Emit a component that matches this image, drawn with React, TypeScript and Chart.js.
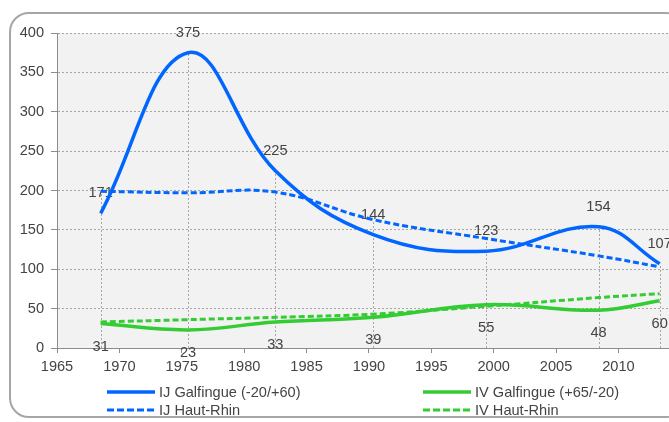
import React, { useEffect, useRef } from 'react';
import { Chart, registerables } from 'chart.js';

Chart.register(...registerables);

// ---- data ----
const years = [1968.5, 1975.5, 1982.5, 1990.35, 1999.4, 2008.4, 2013.3];
const ijGalfingue = [171, 375, 225, 144, 123, 154, 107];
const ivGalfingue = [31, 23, 33, 39, 55, 48, 60];
const ijHautRhin = [199, 197, 198, 163, 139, 117, 103];
const ivHautRhin = [33, 36, 39, 43, 53, 64, 69];
const seriesLabels = ['IJ Galfingue (-20/+60)', 'IV Galfingue (+65/-20)', 'IJ Haut-Rhin', 'IV Haut-Rhin'];
const xTickValues = [1965, 1970, 1975, 1980, 1985, 1990, 1995, 2000, 2005, 2010];
const xMin = 1965;
const xMax = 2014.05;
const yMin = 0;
const yMax = 400;
const yStep = 50;

// ---- styles ----
const BLUE = '#0066ff';
const GREEN = '#33cc33';
const TEXT = '#444444';
const GRID = '#a6a6a6';
const AXIS = '#8c8c8c';
const FONT = "'Liberation Sans', Arial, sans-serif";
const FS = 14.6;

const legendCols = [107, 423];
const legendRows = [391.7, 410];

const bgPlugin = {
  id: 'plotBg',
  beforeDraw(chart: any) {
    const { ctx, chartArea } = chart;
    ctx.save();
    ctx.fillStyle = '#f2f2f2';
    ctx.fillRect(chartArea.left, chartArea.top, chartArea.right - chartArea.left, chartArea.bottom - chartArea.top);
    ctx.restore();
  },
};

const dropLinesAndLabelsPlugin = {
  id: 'dropLinesAndLabels',
  beforeDatasetsDraw(chart: any) {
    const { ctx } = chart;
    const xs = chart.scales.x;
    const ys = chart.scales.y;
    ctx.save();
    ctx.strokeStyle = GRID;
    ctx.lineWidth = 1;
    ctx.setLineDash([2, 2]);
    years.forEach((yr, i) => {
      const top = Math.max(ijGalfingue[i], ivGalfingue[i], ijHautRhin[i], ivHautRhin[i]);
      const x = Math.round(xs.getPixelForValue(yr)) + 0.5;
      ctx.beginPath();
      ctx.moveTo(x, ys.getPixelForValue(0));
      ctx.lineTo(x, ys.getPixelForValue(top));
      ctx.stroke();
    });
    ctx.setLineDash([]);
    ctx.font = `${FS}px ${FONT}`;
    ctx.fillStyle = TEXT;
    ctx.textAlign = 'center';
    ctx.textBaseline = 'middle';
    years.forEach((yr, i) => {
      const x = xs.getPixelForValue(yr);
      ctx.fillText(String(ijGalfingue[i]), x, ys.getPixelForValue(ijGalfingue[i]) - 20);
      ctx.fillText(String(ivGalfingue[i]), x, ys.getPixelForValue(ivGalfingue[i]) + 23);
    });
    ctx.restore();
  },
};

const seriesValues = [ijGalfingue, ivGalfingue, ijHautRhin, ivHautRhin];
const seriesColors = [BLUE, GREEN, BLUE, GREEN];
const seriesDashed = [false, false, true, true];

export default function App() {
  const ref = useRef<HTMLCanvasElement | null>(null);

  useEffect(() => {
    if (!ref.current) return;
    const chart = new Chart(ref.current, {
      type: 'line',
      data: {
        datasets: seriesValues.map((vals, s) => ({
          label: seriesLabels[s],
          data: years.map((x, i) => ({ x, y: vals[i] })),
          borderColor: seriesColors[s],
          backgroundColor: seriesColors[s],
          borderWidth: seriesDashed[s] ? 3 : 3.5,
          borderDash: seriesDashed[s] ? [6, 3] : [],
          tension: 0.4,
          pointRadius: 0,
          fill: false,
        })),
      },
      options: {
        animation: false,
        responsive: false,
        layout: { padding: { left: 0, right: 0, top: 33, bottom: 44 } },
        plugins: {
          legend: { display: false },
          tooltip: { enabled: false },
        },
        scales: {
          x: {
            type: 'linear',
            position: 'bottom',
            min: xMin,
            max: xMax,
            ticks: {
              autoSkip: false,
              maxRotation: 0,
              padding: 5,
              color: TEXT,
              font: { size: FS, family: FONT },
              callback: (v: any) => String(v),
            },
            grid: { drawOnChartArea: false, drawTicks: true, tickLength: 5, tickColor: AXIS },
            border: { color: AXIS, width: 1 },
            afterBuildTicks: (a: any) => {
              a.ticks = xTickValues.map((v) => ({ value: v }));
            },
            afterFit: (s: any) => {
              s.height = 30;
            },
          },
          y: {
            type: 'linear',
            min: yMin,
            max: yMax,
            ticks: {
              stepSize: yStep,
              padding: 7,
              color: TEXT,
              font: { size: FS, family: FONT },
            },
            grid: { color: GRID, tickLength: 6, tickColor: AXIS, tickBorderDash: [] },
            border: { color: AXIS, width: 1, dash: [2, 2] },
            afterFit: (s: any) => {
              s.width = 57;
            },
          },
        },
      } as any,
      plugins: [bgPlugin, dropLinesAndLabelsPlugin],
    });
    return () => chart.destroy();
  }, []);

  return (
    <div
      style={{
        position: 'fixed',
        left: 0,
        top: 0,
        width: 669,
        height: 422,
        overflow: 'hidden',
        background: '#ffffff',
      }}
    >
      <div
        style={{
          position: 'absolute',
          left: 9,
          top: 12,
          width: 677,
          height: 406,
          boxSizing: 'border-box',
          border: '2px solid #a6a6a6',
          borderRadius: 20,
          background: '#ffffff',
        }}
      />
      <canvas
        ref={ref}
        width={669}
        height={422}
        style={{ position: 'absolute', left: 0, top: 0, width: 669, height: 422 }}
      />
      {seriesLabels.map((label, s) => {
        const col = s % 2;
        const row = Math.floor(s / 2);
        return (
          <div
            key={label}
            style={{
              position: 'absolute',
              left: legendCols[col],
              top: legendRows[row] - 9,
              height: 18,
              display: 'flex',
              alignItems: 'center',
              whiteSpace: 'nowrap',
            }}
          >
            <svg width={48} height={6} style={{ display: 'block' }}>
              <line
                x1={0}
                y1={3}
                x2={48}
                y2={3}
                stroke={seriesColors[s]}
                strokeWidth={seriesDashed[s] ? 3 : 3.5}
                strokeDasharray={seriesDashed[s] ? '7 3' : undefined}
              />
            </svg>
            <span
              style={{
                marginLeft: 4,
                fontFamily: FONT,
                fontSize: FS,
                color: TEXT,
                lineHeight: '18px',
              }}
            >
              {label}
            </span>
          </div>
        );
      })}
    </div>
  );
}
